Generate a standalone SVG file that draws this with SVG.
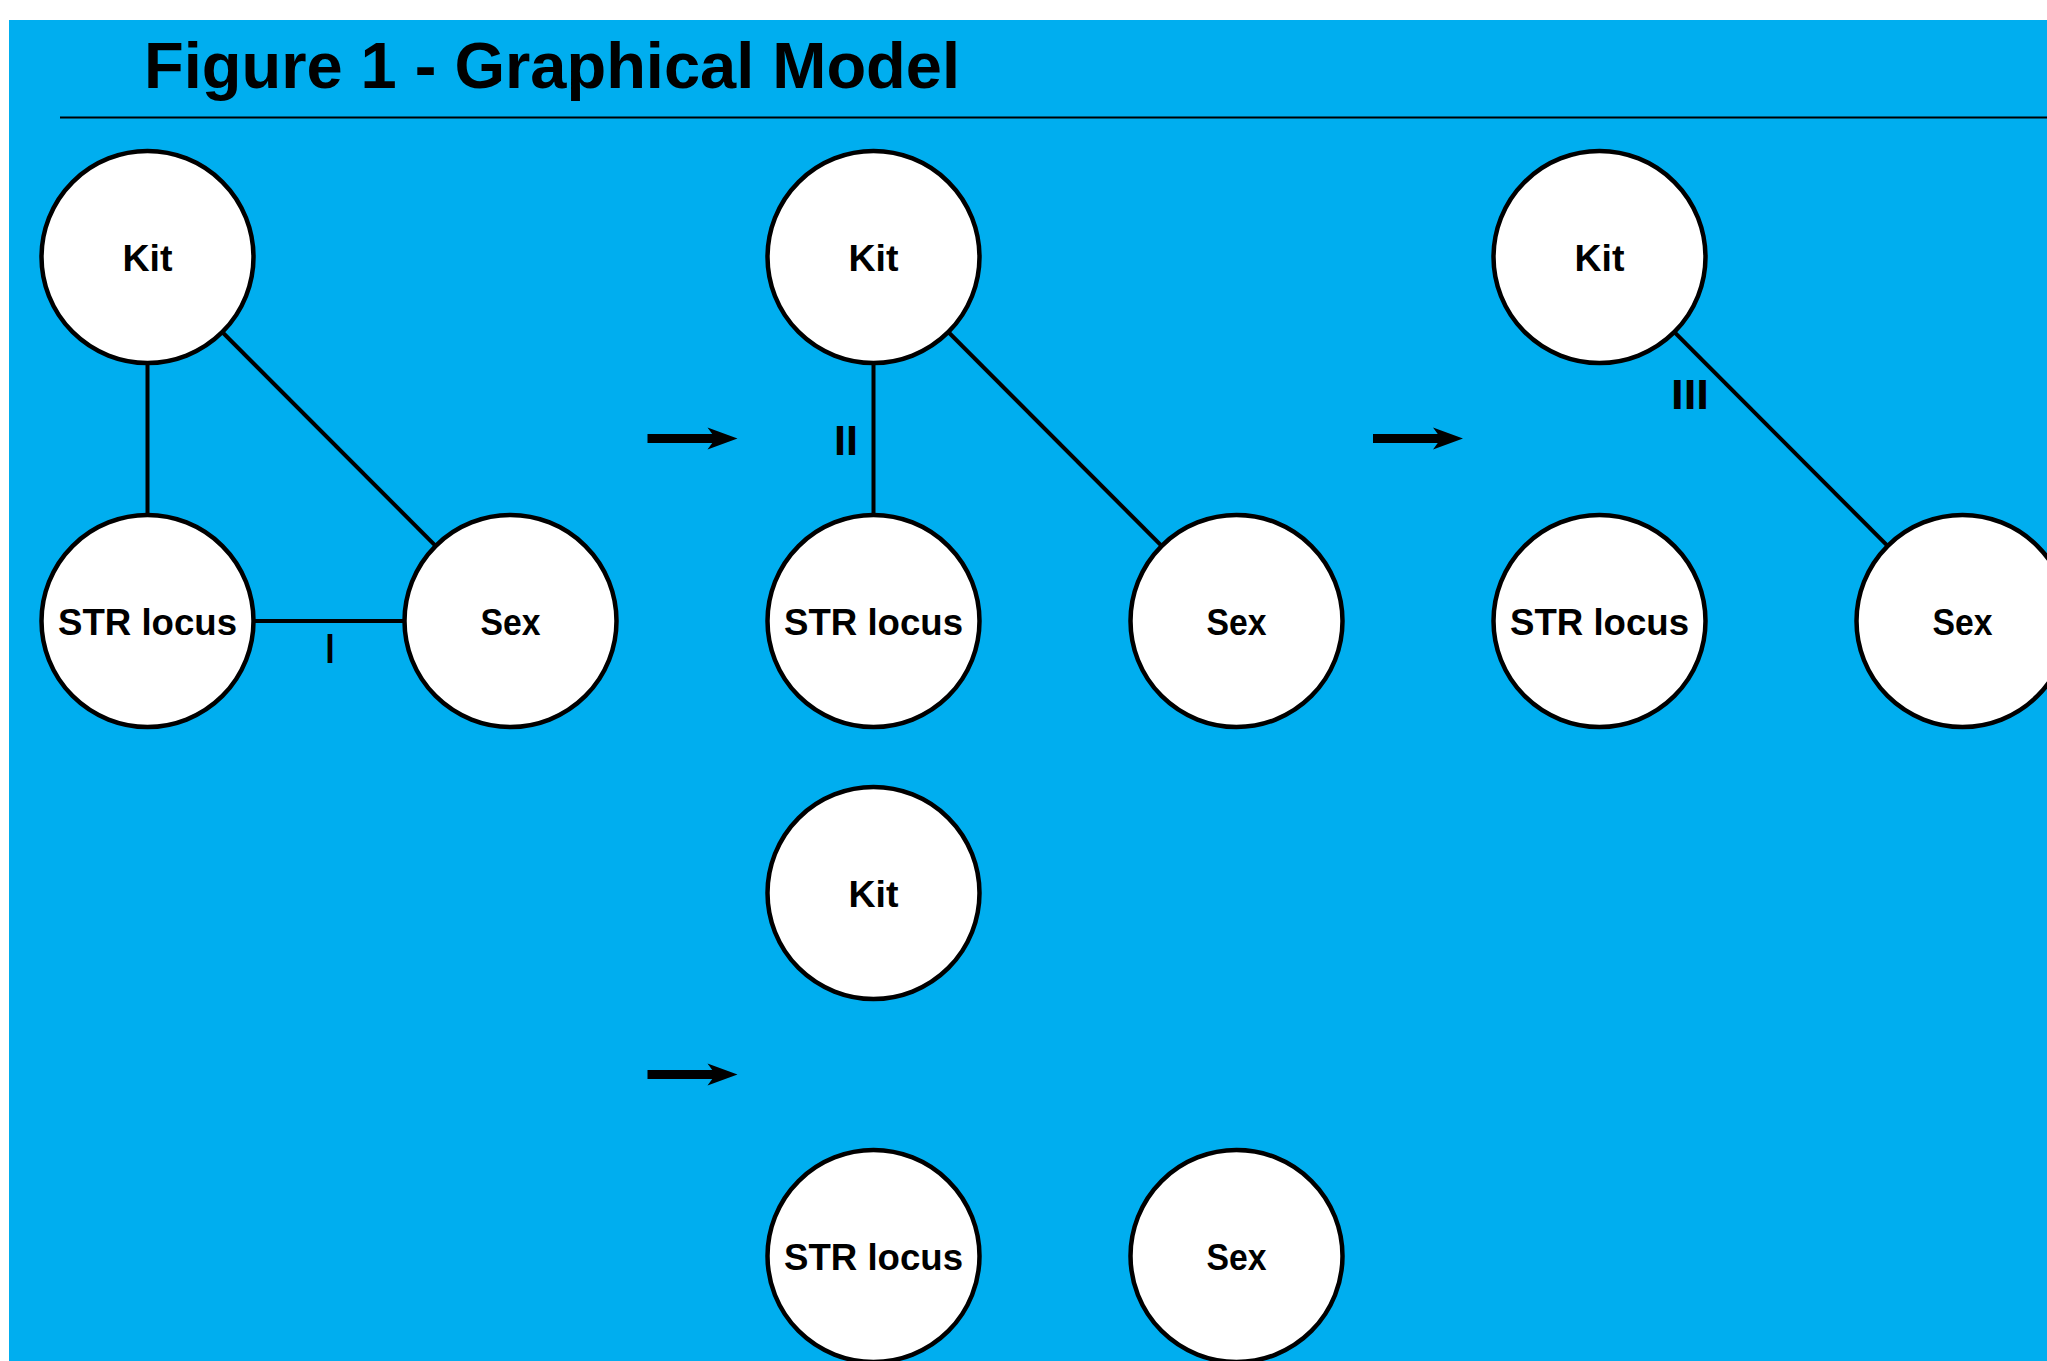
<svg xmlns="http://www.w3.org/2000/svg" width="2047" height="1361" viewBox="0 0 2047 1361">
<defs>
<style>
.node circle{fill:#fff;stroke:#000;stroke-width:4.5}
.node text{font-family:"Liberation Sans",Arial,sans-serif;font-weight:bold;font-size:37px;fill:#000;text-anchor:middle}
.edge{stroke:#000;stroke-width:4;fill:none}
.lbl{font-family:"Liberation Sans",Arial,sans-serif;font-weight:bold;font-size:42px;fill:#000;text-anchor:middle}
.arrow{fill:#000}
</style>
<g id="arrowShape">
<rect x="0" y="-4.5" width="70" height="9"/>
<path d="M60,-11 L90,0 L60,11 L68,0 Z"/>
</g>
</defs>
<rect x="0" y="0" width="2047" height="1361" fill="#fff"/>
<rect x="9" y="20" width="2038" height="1341" fill="#00aeef"/>
<text x="144" y="87.5" font-family="'Liberation Sans',Arial,sans-serif" font-weight="bold" font-size="65" textLength="816" lengthAdjust="spacingAndGlyphs">Figure 1 - Graphical Model</text>
<line x1="60" y1="117.5" x2="2047" y2="117.5" stroke="#000" stroke-width="2"/>
<g id="connectors">
<line class="edge" x1="147.5" y1="257" x2="147.5" y2="621"/>
<line class="edge" x1="147.5" y1="257" x2="510.5" y2="621"/>
<line class="edge" x1="147.5" y1="621" x2="510.5" y2="621"/>
<line class="edge" x1="873.5" y1="257" x2="873.5" y2="621"/>
<line class="edge" x1="873.5" y1="257" x2="1236.5" y2="621"/>
<line class="edge" x1="1599.5" y1="257" x2="1962.5" y2="621"/>
<g class="arrow">
<use href="#arrowShape" transform="translate(647.5,438.5)"/>
<use href="#arrowShape" transform="translate(1373,438.5)"/>
<use href="#arrowShape" transform="translate(647.5,1074.5)"/>
</g>
<text class="lbl" x="330" y="663" textLength="9" lengthAdjust="spacingAndGlyphs">I</text>
<text class="lbl" x="846" y="455" textLength="24" lengthAdjust="spacingAndGlyphs">II</text>
<text class="lbl" x="1690" y="409" textLength="38" lengthAdjust="spacingAndGlyphs">III</text>
</g>
<g id="g1-kit" class="node"><circle cx="147.5" cy="257" r="106"/><text x="147.5" y="271" textLength="50" lengthAdjust="spacingAndGlyphs">Kit</text></g>
<g id="g1-str" class="node"><circle cx="147.5" cy="621" r="106"/><text x="147.5" y="635" textLength="179" lengthAdjust="spacingAndGlyphs">STR locus</text></g>
<g id="g1-sex" class="node"><circle cx="510.5" cy="621" r="106"/><text x="510.5" y="635" textLength="60" lengthAdjust="spacingAndGlyphs">Sex</text></g>
<g id="g2-kit" class="node"><circle cx="873.5" cy="257" r="106"/><text x="873.5" y="271" textLength="50" lengthAdjust="spacingAndGlyphs">Kit</text></g>
<g id="g2-str" class="node"><circle cx="873.5" cy="621" r="106"/><text x="873.5" y="635" textLength="179" lengthAdjust="spacingAndGlyphs">STR locus</text></g>
<g id="g2-sex" class="node"><circle cx="1236.5" cy="621" r="106"/><text x="1236.5" y="635" textLength="60" lengthAdjust="spacingAndGlyphs">Sex</text></g>
<g id="g3-kit" class="node"><circle cx="1599.5" cy="257" r="106"/><text x="1599.5" y="271" textLength="50" lengthAdjust="spacingAndGlyphs">Kit</text></g>
<g id="g3-str" class="node"><circle cx="1599.5" cy="621" r="106"/><text x="1599.5" y="635" textLength="179" lengthAdjust="spacingAndGlyphs">STR locus</text></g>
<g id="g3-sex" class="node"><circle cx="1962.5" cy="621" r="106"/><text x="1962.5" y="635" textLength="60" lengthAdjust="spacingAndGlyphs">Sex</text></g>
<g id="g4-kit" class="node"><circle cx="873.5" cy="893" r="106"/><text x="873.5" y="907" textLength="50" lengthAdjust="spacingAndGlyphs">Kit</text></g>
<g id="g4-str" class="node"><circle cx="873.5" cy="1256" r="106"/><text x="873.5" y="1270" textLength="179" lengthAdjust="spacingAndGlyphs">STR locus</text></g>
<g id="g4-sex" class="node"><circle cx="1236.5" cy="1256" r="106"/><text x="1236.5" y="1270" textLength="60" lengthAdjust="spacingAndGlyphs">Sex</text></g>
</svg>
